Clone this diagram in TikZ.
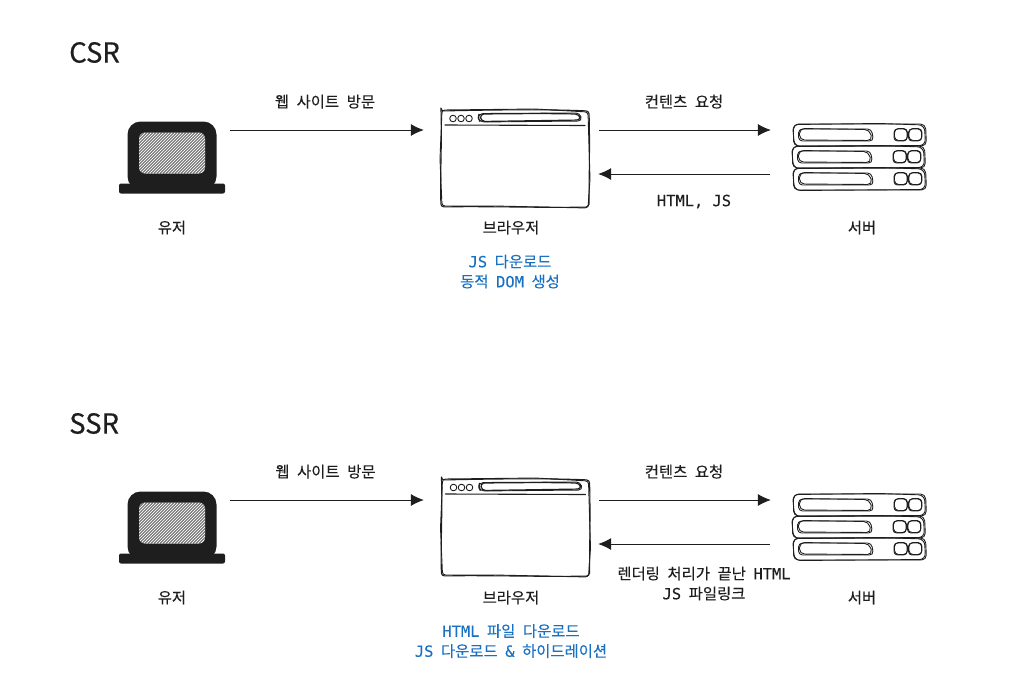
\documentclass[tikz,border=0pt]{standalone}
\usepackage{fontspec}
\setmainfont{Noto Sans CJK KR}
\newfontfamily\krfont[WordSpace=2.2,FakeBold=0.2]{Noto Sans CJK KR}
\newfontfamily\titlefont[FakeBold=0.5]{Noto Sans CJK KR}
\newfontfamily\latfont[FakeBold=0.25]{DejaVu Sans Mono}
\newcommand{\lat}[1]{{\latfont\fontsize{15.4}{20}\selectfont #1}}
\usetikzlibrary{arrows.meta}
\definecolor{ink}{HTML}{1E1E1E}
\definecolor{blueink}{HTML}{1971C2}
\tikzset{
  lbl/.style={font=\krfont\fontsize{15.4}{20}\selectfont, text=ink, inner sep=0pt, align=center},
  bluelbl/.style={lbl, text=blueink},
  titlelbl/.style={font=\titlefont\fontsize{27.5}{30}\selectfont, text=ink, inner sep=0pt, anchor=west},
  icon/.style={inner sep=0pt, minimum width=#1},
  flow/.style={ink, line width=0.8pt, -{Latex[length=13pt,width=12pt]}},
  sketch/.style={ink, line width=0.9pt, line join=round, line cap=round},
  % laptop, drawn around its own centre
  pics/laptop/.style={code={
    \fill[ink, rounded corners=13pt] (-44.5,-36) rectangle (44.5,32);
    \fill[ink, rounded corners=2pt] (-53,26) rectangle (53,36);
    \fill[gray!12, rounded corners=6pt] (-33,-25) rectangle (33,16);
    \begin{scope}
      \clip[rounded corners=6pt] (-33,-25) rectangle (33,16);
      \foreach \hh in {-75,-72,...,36}
        \draw[ink, line width=0.4pt] (\hh,16) -- (\hh+41,-25);
    \end{scope}
  }},
  % browser window
  pics/browserwin/.style={code={
    \draw[sketch, line width=1.1pt, rounded corners=3pt]
      (-74,-48) .. controls (-30,-49) and (30,-50) .. (74,-48)
      .. controls (75,-15) and (74,20) .. (74,48)
      .. controls (30,49) and (-30,47) .. (-74,48)
      .. controls (-75,20) and (-73,-15) .. (-74,-48) -- cycle;
    \draw[sketch, rounded corners=3pt]
      (-73,-49) -- (20,-50) -- (73,-47) -- (75,20) -- (73,49) -- (-20,47) -- (-73,47) -- (-75,0) -- cycle;
    \draw[sketch, line width=1.1pt] (-70,-34) -- (70,-33.5);
    \foreach \dd in {-62,-54,-46}
      \draw[sketch] (\dd,-40.5) circle (3.3);
    \draw[sketch, rounded corners=4pt] (-36,-45.5) -- (65,-46) -- (67,-38) -- (-35,-37) -- (-37,-41) -- cycle;
    \draw[sketch, line width=1.2pt, rounded corners=4pt] (-35,-45) -- (25,-45.5) -- (64,-45) -- (66,-39) -- (-34,-37.5) -- cycle;
  }},
  % one shelf of the server
  pics/shelf/.style={code={
    \draw[sketch, rounded corners=5pt] (-66,-11) -- (66,-11) -- (67,11) -- (-66,11) -- cycle;
    \draw[sketch, rounded corners=6pt] (-67,-10.5) -- (20,-11.5) -- (65,-10) -- (66,10.5) -- (-65,11.5) -- cycle;
    \draw[sketch, rounded corners=4pt] (-61,-6) -- (12,-6) -- (14,6) -- (-61,6) -- cycle;
    \draw[sketch, rounded corners=5pt] (-60,-6.5) -- (10,-5.5) -- (13,5.5) -- (-60,5) -- cycle;
    \foreach \ss in {41,55.5}
      {
      \draw[sketch, rounded corners=3.5pt] (\ss-6.5,-6) rectangle (\ss+6.5,6);
      \draw[sketch, rounded corners=4pt] (\ss-6,-6.5) rectangle (\ss+7,5.5);
      }
  }},
  pics/serverstack/.style={code={
    \pic at (0,-22) {shelf};
    \pic at (-1,0) {shelf};
    \pic at (0,22) {shelf};
  }}
}
\begin{document}
\begin{tikzpicture}[x=1pt,y=-1pt]
  \useasboundingbox (0,0) rectangle (1022,697);

  % CSR
  \node[titlelbl] (csrtitle) at (69,52.5) {CSR};
  \pic at (172,157.5) {laptop};
  \pic at (515,159) {browserwin};
  \pic at (859.5,157) {serverstack};
  \node[icon=106pt, minimum height=72pt] (usera) at (172,157.5) {};
  \node[icon=148pt, minimum height=98pt] (browsera) at (515,159) {};
  \node[icon=134pt, minimum height=66pt] (servera) at (859.5,157) {};
  \draw[flow] ([xshift=5pt,yshift=27.5pt]usera.east) -- ([xshift=-17pt,yshift=29pt]browsera.west)
    node[lbl, midway, above=21pt, xshift=-2pt] (visita) {웹 사이트 방문};
  \draw[flow] ([xshift=10pt,yshift=29pt]browsera.east) -- ([xshift=-21.5pt,yshift=27pt]servera.west)
    node[lbl, midway, above=21pt, xshift=-1pt] (reqa) {컨텐츠 요청};
  \draw[flow] ([xshift=-22.5pt,yshift=-17pt]servera.west) -- ([xshift=9pt,yshift=-15pt]browsera.east);
  \node[lbl] (resa) at (694,201.5) {\lat{HTML, JS}};
  \node[lbl] (usernamea) at (172,227.5) {유저};
  \node[lbl] (browsernamea) at (511,227.5) {브라우저};
  \node[lbl] (servernamea) at (862,227.5) {서버};
  \node[bluelbl] (notea) at (510,271.5) {\lat{JS} 다운로드\\동적 \lat{DOM} 생성};

  % SSR
  \node[titlelbl] (ssrtitle) at (69,423.5) {SSR};
  \pic at (172,527.5) {laptop};
  \pic at (515.5,528) {browserwin};
  \pic at (859.5,527) {serverstack};
  \node[icon=106pt, minimum height=72pt] (userb) at (172,527.5) {};
  \node[icon=148pt, minimum height=98pt] (browserb) at (515.5,528) {};
  \node[icon=134pt, minimum height=66pt] (serverb) at (859.5,527) {};
  \draw[flow] ([xshift=5pt,yshift=27.5pt]userb.east) -- ([xshift=-17.5pt,yshift=28pt]browserb.west)
    node[lbl, midway, above=21pt, xshift=-1.5pt] (visitb) {웹 사이트 방문};
  \draw[flow] ([xshift=9.5pt,yshift=28pt]browserb.east) -- ([xshift=-21.5pt,yshift=27pt]serverb.west)
    node[lbl, midway, above=21pt, xshift=-1pt] (reqb) {컨텐츠 요청};
  \draw[flow] ([xshift=-22.5pt,yshift=-17pt]serverb.west) -- ([xshift=8.5pt,yshift=-16pt]browserb.east);
  \node[lbl] (resb) at (704,583.5) {렌더링 처리가 끝난 \lat{HTML}\\\lat{JS} 파일링크};
  \node[lbl] (usernameb) at (172,597.5) {유저};
  \node[lbl] (browsernameb) at (511,597.5) {브라우저};
  \node[lbl] (servernameb) at (862,597.5) {서버};
  \node[bluelbl] (noteb) at (511,641) {\lat{HTML} 파일 다운로드\\\lat{JS} 다운로드 \lat{\&} 하이드레이션};
\end{tikzpicture}
\end{document}
